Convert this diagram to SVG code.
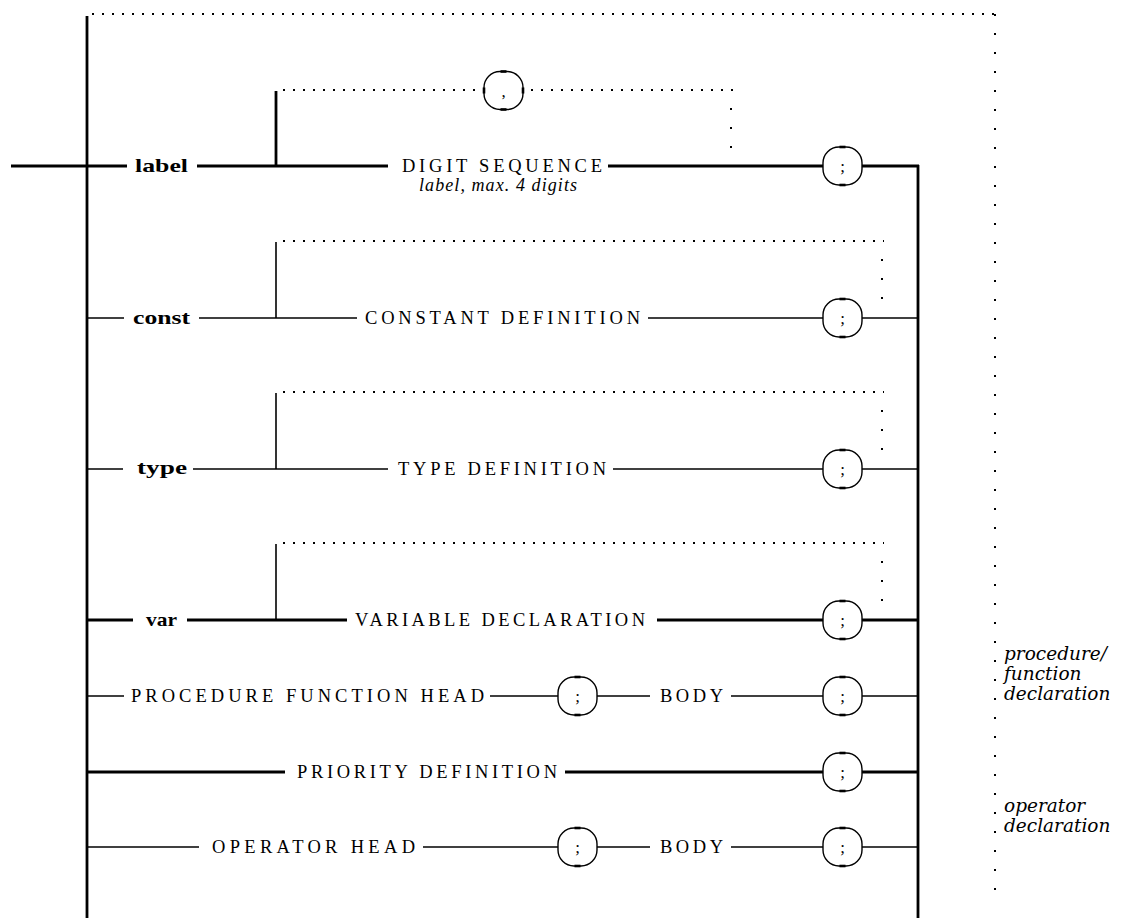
<svg xmlns="http://www.w3.org/2000/svg" width="1136" height="918" viewBox="0 0 1136 918">
<style>
.bg{fill:#fff}
.thick{stroke:#000;stroke-width:2.8;fill:none}
.thin{stroke:#000;stroke-width:1.6;fill:none}
.doth{stroke:#000;stroke-width:2;stroke-dasharray:2 8;fill:none}
.dotv{stroke:#000;stroke-width:2;stroke-dasharray:2 17;fill:none}
.box{stroke:#000;stroke-width:1.4;fill:#fff}
.mark{stroke:#000;stroke-width:2.6;fill:none}
.kw{font-family:"Liberation Serif",serif;font-weight:bold;font-size:19px;fill:#000}
.nt{font-family:"Liberation Serif",serif;font-size:18.5px;fill:#000}
.it{font-family:"Liberation Serif",serif;font-style:italic;font-size:18px;fill:#000}
.note{font-family:"DejaVu Serif",serif;font-style:italic;font-size:18.5px;fill:#000}
.sym{font-family:"Liberation Serif",serif;font-size:17px;fill:#000}
</style>
<defs>
<g id="term">
<rect class="box" x="0" y="-19" width="39" height="38" rx="16" ry="16"/>
<line class="mark" x1="16.5" y1="-19" x2="22.5" y2="-19"/>
<line class="mark" x1="16.5" y1="19" x2="22.5" y2="19"/>
</g>
</defs>
<rect class="bg" x="0" y="0" width="1136" height="918"/>

<g id="connectors">
<line class="thick" x1="87" y1="16" x2="87" y2="918"/>
<line class="thick" x1="918" y1="165" x2="918" y2="918"/>
<line class="doth" x1="92" y1="14" x2="996" y2="14"/>
<line class="dotv" x1="995" y1="14" x2="995" y2="906"/>

<line class="thick" x1="11" y1="166" x2="127" y2="166"/>
<line class="thick" x1="197" y1="166" x2="388" y2="166"/>
<line class="thick" x1="276" y1="91" x2="276" y2="166"/>
<line class="doth" x1="283" y1="90" x2="481" y2="90"/>
<line class="doth" x1="531" y1="90" x2="733" y2="90"/>
<line class="dotv" x1="731" y1="108" x2="731" y2="150"/>
<line class="thick" x1="608" y1="166" x2="823" y2="166"/>
<line class="thick" x1="862" y1="166" x2="919" y2="166"/>

<line class="thin" x1="87" y1="318" x2="124" y2="318"/>
<line class="thin" x1="199" y1="318" x2="357" y2="318"/>
<line class="thin" x1="276" y1="242" x2="276" y2="318"/>
<line class="doth" x1="283" y1="241" x2="884" y2="241"/>
<line class="dotv" x1="882" y1="259" x2="882" y2="302"/>
<line class="thin" x1="648" y1="318" x2="823" y2="318"/>
<line class="thin" x1="862" y1="318" x2="918" y2="318"/>

<line class="thin" x1="87" y1="469" x2="123" y2="469"/>
<line class="thin" x1="193" y1="469" x2="388" y2="469"/>
<line class="thin" x1="276" y1="393" x2="276" y2="469"/>
<line class="doth" x1="283" y1="392" x2="884" y2="392"/>
<line class="dotv" x1="882" y1="410" x2="882" y2="453"/>
<line class="thin" x1="613" y1="469" x2="823" y2="469"/>
<line class="thin" x1="862" y1="469" x2="918" y2="469"/>

<line class="thick" x1="87" y1="620" x2="133" y2="620"/>
<line class="thick" x1="187" y1="620" x2="347" y2="620"/>
<line class="thin" x1="276" y1="544" x2="276" y2="620"/>
<line class="doth" x1="283" y1="543" x2="884" y2="543"/>
<line class="dotv" x1="882" y1="561" x2="882" y2="604"/>
<line class="thick" x1="657" y1="620" x2="823" y2="620"/>
<line class="thick" x1="862" y1="620" x2="918" y2="620"/>

<line class="thin" x1="87" y1="696" x2="124" y2="696"/>
<line class="thin" x1="490" y1="696" x2="558" y2="696"/>
<line class="thin" x1="597" y1="696" x2="650" y2="696"/>
<line class="thin" x1="731" y1="696" x2="823" y2="696"/>
<line class="thin" x1="862" y1="696" x2="918" y2="696"/>

<line class="thick" x1="87" y1="772" x2="285" y2="772"/>
<line class="thick" x1="565" y1="772" x2="823" y2="772"/>
<line class="thick" x1="862" y1="772" x2="918" y2="772"/>

<line class="thin" x1="87" y1="847" x2="199" y2="847"/>
<line class="thin" x1="423" y1="847" x2="558" y2="847"/>
<line class="thin" x1="597" y1="847" x2="650" y2="847"/>
<line class="thin" x1="731" y1="847" x2="823" y2="847"/>
<line class="thin" x1="862" y1="847" x2="918" y2="847"/>
</g>

<g id="kw-label"><text class="kw" x="135" y="172" textLength="53" lengthAdjust="spacingAndGlyphs">label</text></g>
<g id="nt-digit-sequence">
<text class="nt" x="402" y="172" textLength="200" lengthAdjust="spacing">DIGIT SEQUENCE</text>
<text class="it" x="419" y="191" textLength="158" lengthAdjust="spacing">label, max. 4 digits</text>
</g>
<g id="t-comma"><use href="#term" x="484" y="90.5"/><line class="mark" x1="484" y1="87.5" x2="484" y2="93.5"/><line class="mark" x1="523" y1="87.5" x2="523" y2="93.5"/><text class="sym" x="503.5" y="97" text-anchor="middle">,</text></g>
<g id="t-semi-1"><use href="#term" x="823" y="166"/><text class="sym" x="842.5" y="172" text-anchor="middle">;</text></g>

<g id="kw-const"><text class="kw" x="133" y="324" textLength="57" lengthAdjust="spacingAndGlyphs">const</text></g>
<g id="nt-constant-definition"><text class="nt" x="365" y="324" textLength="275" lengthAdjust="spacing">CONSTANT DEFINITION</text></g>
<g id="t-semi-2"><use href="#term" x="823" y="318"/><text class="sym" x="842.5" y="324" text-anchor="middle">;</text></g>

<g id="kw-type"><text class="kw" x="137" y="474" textLength="50" lengthAdjust="spacingAndGlyphs">type</text></g>
<g id="nt-type-definition"><text class="nt" x="398" y="475" textLength="208" lengthAdjust="spacing">TYPE DEFINITION</text></g>
<g id="t-semi-3"><use href="#term" x="823" y="469"/><text class="sym" x="842.5" y="475" text-anchor="middle">;</text></g>

<g id="kw-var"><text class="kw" x="146" y="626" textLength="31" lengthAdjust="spacingAndGlyphs">var</text></g>
<g id="nt-variable-declaration"><text class="nt" x="355" y="626" textLength="290" lengthAdjust="spacing">VARIABLE DECLARATION</text></g>
<g id="t-semi-4"><use href="#term" x="823" y="620"/><text class="sym" x="842.5" y="626" text-anchor="middle">;</text></g>

<g id="nt-procedure-function-head"><text class="nt" x="131" y="702" textLength="353" lengthAdjust="spacing">PROCEDURE FUNCTION HEAD</text></g>
<g id="t-semi-5"><use href="#term" x="558" y="696"/><text class="sym" x="577.5" y="702" text-anchor="middle">;</text></g>
<g id="nt-body-1"><text class="nt" x="660" y="702" textLength="63" lengthAdjust="spacing">BODY</text></g>
<g id="t-semi-6"><use href="#term" x="823" y="696"/><text class="sym" x="842.5" y="702" text-anchor="middle">;</text></g>

<g id="nt-priority-definition"><text class="nt" x="297" y="778" textLength="260" lengthAdjust="spacing">PRIORITY DEFINITION</text></g>
<g id="t-semi-7"><use href="#term" x="823" y="772"/><text class="sym" x="842.5" y="778" text-anchor="middle">;</text></g>

<g id="nt-operator-head"><text class="nt" x="212" y="853" textLength="203" lengthAdjust="spacing">OPERATOR HEAD</text></g>
<g id="t-semi-8"><use href="#term" x="558" y="847"/><text class="sym" x="577.5" y="853" text-anchor="middle">;</text></g>
<g id="nt-body-2"><text class="nt" x="660" y="853" textLength="63" lengthAdjust="spacing">BODY</text></g>
<g id="t-semi-9"><use href="#term" x="823" y="847"/><text class="sym" x="842.5" y="853" text-anchor="middle">;</text></g>

<g id="note-procedure">
<text class="note" x="1004" y="660">procedure/</text>
<text class="note" x="1004" y="680">function</text>
<text class="note" x="1004" y="700">declaration</text>
</g>
<g id="note-operator">
<text class="note" x="1004" y="812">operator</text>
<text class="note" x="1004" y="832">declaration</text>
</g>
</svg>
